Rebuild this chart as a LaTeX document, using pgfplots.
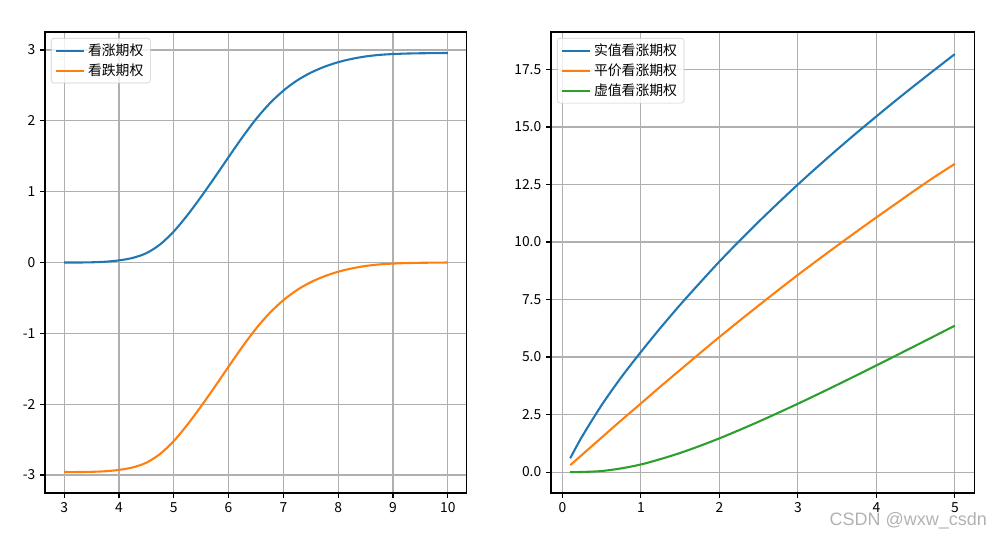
\documentclass[border=0pt]{standalone}
\usepackage{fontspec}
\setmainfont{Noto Sans CJK SC}
\newfontfamily\wmfont{Liberation Sans}
\usepackage{pgfplots}
\pgfplotsset{compat=1.18}

\definecolor{c0}{HTML}{1F77B4}
\definecolor{c1}{HTML}{FF7F0E}
\definecolor{c2}{HTML}{2CA02C}
\definecolor{gridc}{HTML}{B0B0B0}

\pgfplotstableread{
x call
3.00 0.000
3.25 0.000
3.50 0.003
3.75 0.011
4.00 0.030
4.25 0.065
4.50 0.132
4.75 0.255
5.00 0.438
5.25 0.670
5.50 0.930
5.75 1.205
6.00 1.488
6.25 1.766
6.50 2.024
6.75 2.245
7.00 2.426
7.25 2.570
7.50 2.680
7.75 2.764
8.00 2.828
8.25 2.875
8.50 2.909
8.75 2.931
9.00 2.943
9.25 2.950
9.50 2.954
9.75 2.956
10.00 2.958
}\calltab

\pgfplotstableread{
x put
3.00 -2.958
3.25 -2.958
3.50 -2.955
3.75 -2.947
4.00 -2.928
4.25 -2.893
4.50 -2.826
4.75 -2.703
5.00 -2.520
5.25 -2.288
5.50 -2.028
5.75 -1.753
6.00 -1.470
6.25 -1.192
6.50 -0.934
6.75 -0.713
7.00 -0.532
7.25 -0.388
7.50 -0.278
7.75 -0.194
8.00 -0.130
8.25 -0.083
8.50 -0.049
8.75 -0.027
9.00 -0.015
9.25 -0.008
9.50 -0.004
9.75 -0.002
10.00 0.000
}\puttab

\pgfplotstableread{
x itm atm otm
0.10 0.60 0.30 0.000
0.25 1.54 0.75 0.004
0.50 2.91 1.50 0.045
0.75 4.12 2.25 0.160
1.00 5.22 2.98 0.330
1.25 6.27 3.72 0.564
1.50 7.27 4.44 0.830
1.75 8.22 5.16 1.135
2.00 9.15 5.87 1.465
2.25 10.03 6.56 1.820
2.50 10.88 7.24 2.190
2.75 11.70 7.91 2.576
3.00 12.50 8.57 2.970
3.25 13.27 9.21 3.376
3.50 14.02 9.84 3.790
3.75 14.75 10.46 4.210
4.00 15.46 11.07 4.635
4.25 16.16 11.67 5.064
4.50 16.84 12.27 5.495
4.75 17.51 12.85 5.928
5.00 18.17 13.40 6.365
}\ttab

\pgfplotsset{
  every axis/.append style={
    scale only axis,
    font=\fontsize{10}{12}\selectfont,
    axis line style={black, line width=0.8bp},
    grid=major,
    major grid style={gridc, line width=0.8bp},
    tick align=outside,
    tick pos=left,
    major tick length=3.5bp,
    every tick/.style={black, line width=0.8bp},
    /pgf/number format/assume math mode=true,
    legend cell align=left,
    legend style={at={(0,1)}, anchor=north west, xshift=4.3bp, yshift=-4.3bp,
      draw=black!20, rounded corners=2bp, fill=white, fill opacity=0.8, text opacity=1,
      font=\fontsize{10}{12}\selectfont, row sep=0.5bp, inner xsep=3bp, inner ysep=2bp},
    legend image code/.code={\draw[#1] (0bp,0bp) -- (20bp,0bp);},
  },
}

\begin{document}
\begin{tikzpicture}
\path[use as bounding box] (0,0) rectangle (722.16bp,388.8bp);

\begin{axis}[
  at={(32.4bp,33.84bp)}, anchor=south west,
  width=303.8bp, height=331.9bp,
  xmin=2.65, xmax=10.35,
  ymin=-3.254, ymax=3.254,
  xtick={3,4,...,10},
  ytick={-3,-2,...,3},
]
\addplot[c0, line width=1.5bp, smooth] table[x=x, y=call] {\calltab};
\addlegendentry{看涨期权}
\addplot[c1, line width=1.5bp, smooth] table[x=x, y=put] {\puttab};
\addlegendentry{看跌期权}
\end{axis}

\begin{axis}[
  at={(396.72bp,33.84bp)}, anchor=south west,
  width=304.6bp, height=331.9bp,
  xmin=-0.145, xmax=5.245,
  ymin=-0.91, ymax=19.13,
  xtick={0,1,...,5},
  ytick={0,2.5,...,17.5},
  yticklabel style={/pgf/number format/.cd, fixed, fixed zerofill, precision=1},
]
\addplot[c0, line width=1.5bp, smooth] table[x=x, y=itm] {\ttab};
\addlegendentry{实值看涨期权}
\addplot[c1, line width=1.5bp, smooth] table[x=x, y=atm] {\ttab};
\addlegendentry{平价看涨期权}
\addplot[c2, line width=1.5bp, smooth] table[x=x, y=otm] {\ttab};
\addlegendentry{虚值看涨期权}
\end{axis}

\node[anchor=center, text=black!30, font=\wmfont\fontsize{13}{15}\selectfont]
  at (654bp,13.5bp) {CSDN @wxw\_csdn};
\end{tikzpicture}
\end{document}
